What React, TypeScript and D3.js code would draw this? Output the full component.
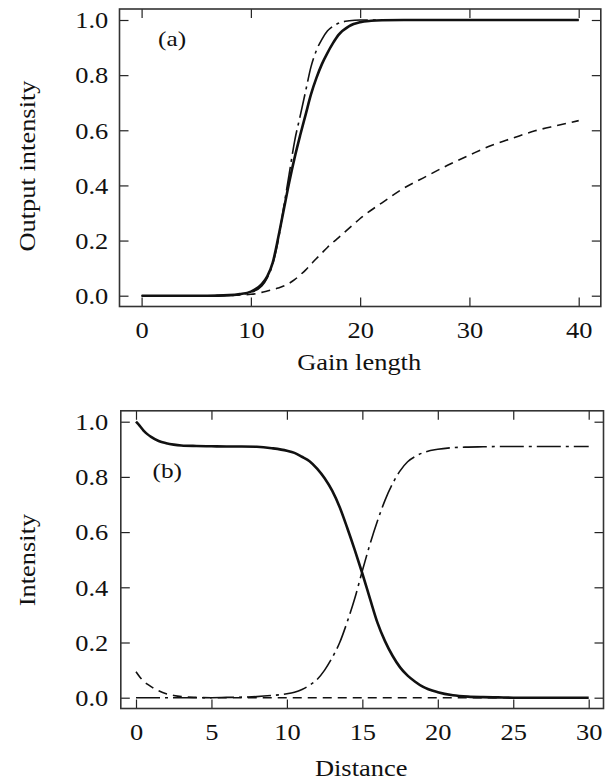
// App.tsx
import React, { useRef, useEffect } from 'react';
import * as d3 from 'd3';

// panel (a): output intensity vs gain length
const gainX = [0, 2, 4, 6, 8, 9, 10, 11, 11.5, 12, 12.5, 13, 13.5, 14, 14.5, 15, 15.5, 16, 16.5, 17, 17.5, 18, 19, 20, 21, 22, 24, 26, 28, 30, 32, 34, 36, 38, 40];
const gainSolid = [0, 0, 0, 0, 0.002, 0.006, 0.015, 0.042, 0.07, 0.12, 0.21, 0.31, 0.41, 0.5, 0.58, 0.655, 0.73, 0.79, 0.84, 0.88, 0.915, 0.945, 0.978, 0.992, 0.997, 0.999, 1, 1, 1, 1, 1, 1, 1, 1, 1];
const gainDashDot = [0, 0, 0, 0, 0.001, 0.004, 0.012, 0.035, 0.065, 0.115, 0.2, 0.32, 0.44, 0.56, 0.65, 0.74, 0.83, 0.89, 0.93, 0.96, 0.977, 0.988, 0.997, 1, 1, 1, 1, 1, 1, 1, 1, 1, 1, 1, 1];
const gainDashed = [0, 0, 0, 0, 0.001, 0.003, 0.005, 0.012, 0.017, 0.022, 0.028, 0.035, 0.045, 0.058, 0.075, 0.093, 0.114, 0.135, 0.155, 0.175, 0.193, 0.21, 0.245, 0.28, 0.31, 0.337, 0.39, 0.432, 0.473, 0.51, 0.545, 0.572, 0.598, 0.617, 0.635];
const gainTicks = [0, 10, 20, 30, 40];

// panel (b): intensity vs distance
const distX = [0, 0.25, 0.5, 0.75, 1, 1.5, 2, 2.5, 3, 4, 5, 6, 7, 8, 9, 10, 10.5, 11, 11.5, 12, 12.5, 13, 13.5, 14, 14.5, 15, 15.5, 16, 16.5, 17, 17.5, 18, 18.5, 19, 20, 21, 22, 23, 24, 25, 26, 28, 30];
const distSolid = [1, 0.985, 0.968, 0.955, 0.945, 0.93, 0.922, 0.917, 0.914, 0.912, 0.911, 0.91, 0.91, 0.909, 0.904, 0.895, 0.887, 0.873, 0.857, 0.83, 0.795, 0.75, 0.69, 0.615, 0.535, 0.45, 0.36, 0.272, 0.205, 0.152, 0.11, 0.08, 0.058, 0.04, 0.02, 0.009, 0.004, 0.002, 0.001, 0, 0, 0, 0];
const distDashDot = [0, 0, 0, 0, 0, 0, 0, 0, 0, 0, 0, 0.001, 0.002, 0.004, 0.008, 0.014, 0.02, 0.03, 0.045, 0.066, 0.1, 0.145, 0.2, 0.275, 0.36, 0.46, 0.555, 0.64, 0.715, 0.775, 0.822, 0.855, 0.874, 0.887, 0.9, 0.906, 0.908, 0.909, 0.91, 0.91, 0.91, 0.91, 0.91];
const distDashed = [0.094, 0.075, 0.06, 0.049, 0.04, 0.025, 0.014, 0.008, 0.004, 0.001, 0, 0, 0, 0, 0, 0, 0, 0, 0, 0, 0, 0, 0, 0, 0, 0, 0, 0, 0, 0, 0, 0, 0, 0, 0, 0, 0, 0, 0, 0, 0, 0, 0];
const distTicks = [0, 5, 10, 15, 20, 25, 30];

const intensityTicks = [0, 0.2, 0.4, 0.6, 0.8, 1.0];

const FONT = '"Liberation Serif", "Times New Roman", serif';
const SX = 1.15; // the original serif is set wider than Times

const App = () => {
  const svgRef = useRef<SVGSVGElement>(null);

  useEffect(() => {
    const svg = d3.select(svgRef.current);
    svg.selectAll('*').remove();

    const drawPanel = (opts: any) => {
      const { frame, xDomain, xRange, yRange, xs, series, xTicks, xLabel, yLabel, tag, tagPos, xLabelY } = opts;
      const x = d3.scaleLinear().domain(xDomain).range(xRange);
      const y = d3.scaleLinear().domain([0, 1]).range(yRange);
      const g = svg.append('g');

      // inward ticks on all four sides
      const bottom = g.append('g')
        .attr('transform', `translate(0,${frame.bottom})`)
        .call(d3.axisBottom(x).tickValues(xTicks).tickSize(-9).tickFormat(d3.format('d')));
      const left = g.append('g')
        .attr('transform', `translate(${frame.left},0)`)
        .call(d3.axisLeft(y).tickValues(intensityTicks).tickSize(-9).tickFormat(d3.format('.1f')));
      g.append('g')
        .attr('transform', `translate(0,${frame.top})`)
        .call(d3.axisTop(x).tickValues(xTicks).tickSize(-9).tickFormat(() => ''));
      g.append('g')
        .attr('transform', `translate(${frame.right},0)`)
        .call(d3.axisRight(y).tickValues(intensityTicks).tickSize(-9).tickFormat(() => ''));

      g.selectAll('.domain').remove();
      g.selectAll('.tick line').attr('stroke', '#222').attr('stroke-width', 1.2);

      bottom.selectAll('text')
        .attr('y', 31.5)
        .attr('dy', null)
        .attr('font-family', FONT)
        .attr('font-size', 23)
        .attr('fill', '#111')
        .attr('transform', `scale(${SX},1)`);
      left.selectAll('text')
        .attr('x', -(frame.left - 108.3) / SX)
        .attr('dy', '0.34em')
        .attr('font-family', FONT)
        .attr('font-size', 23)
        .attr('fill', '#111')
        .attr('transform', `scale(${SX},1)`);

      // frame
      g.append('rect')
        .attr('x', frame.left)
        .attr('y', frame.top)
        .attr('width', frame.right - frame.left)
        .attr('height', frame.bottom - frame.top)
        .attr('fill', 'none')
        .attr('stroke', '#333')
        .attr('stroke-width', 1.6);

      // curves
      series.forEach((s: any) => {
        const pts = xs.map((d: number, i: number) => [d, s.values[i]]);
        g.append('path')
          .datum(pts)
          .attr('fill', 'none')
          .attr('stroke', '#111')
          .attr('stroke-width', s.width)
          .attr('stroke-dasharray', s.dash)
          .attr('stroke-linejoin', 'round')
          .attr('d', d3.line<any>().x(d => x(d[0])).y(d => y(d[1])).curve(d3.curveMonotoneX)(pts));
      });

      // labels
      g.append('text')
        .attr('transform', `translate(${(frame.left + frame.right) / 2 - 1},${xLabelY}) scale(${SX},1)`)
        .attr('text-anchor', 'middle')
        .attr('font-family', FONT)
        .attr('font-size', 23)
        .attr('fill', '#111')
        .text(xLabel);
      g.append('text')
        .attr('transform', `translate(34.5,${yLabel.cy}) rotate(-90) scale(${SX},1)`)
        .attr('text-anchor', 'middle')
        .attr('font-family', FONT)
        .attr('font-size', 23)
        .attr('fill', '#111')
        .text(yLabel.text);
      g.append('text')
        .attr('transform', `translate(${tagPos[0]},${tagPos[1]}) scale(${SX},1)`)
        .attr('font-family', FONT)
        .attr('font-size', 22)
        .attr('fill', '#111')
        .text(tag);
    };

    drawPanel({
      frame: { left: 119.5, right: 600.8, top: 9, bottom: 306.5 },
      xDomain: [0, 40],
      xRange: [141.6, 578.7],
      yRange: [295.7, 20],
      xs: gainX,
      series: [
        { values: gainDashed, dash: '9,6', width: 1.6 },
        { values: gainDashDot, dash: '24,5,3,5', width: 1.6 },
        { values: gainSolid, dash: null, width: 2.6 },
      ],
      xTicks: gainTicks,
      xLabel: 'Gain length',
      xLabelY: 370,
      yLabel: { text: 'Output intensity', cy: 166 },
      tag: '(a)',
      tagPos: [158, 46],
    });

    drawPanel({
      frame: { left: 120.8, right: 603.5, top: 410.8, bottom: 708.5 },
      xDomain: [0, 30],
      xRange: [136, 588.7],
      yRange: [697.7, 421.7],
      xs: distX,
      series: [
        { values: distDashed, dash: '9,6', width: 1.6 },
        { values: distDashDot, dash: '24,5,3,5', width: 1.6 },
        { values: distSolid, dash: null, width: 2.6 },
      ],
      xTicks: distTicks,
      xLabel: 'Distance',
      xLabelY: 776,
      yLabel: { text: 'Intensity', cy: 560 },
      tag: '(b)',
      tagPos: [152.5, 477.5],
    });
  }, []);

  return (
    <svg
      ref={svgRef}
      width={610}
      height={784}
      style={{ position: 'absolute', left: 0, top: 0, background: '#fff' }}
    ></svg>
  );
};

export default App;
